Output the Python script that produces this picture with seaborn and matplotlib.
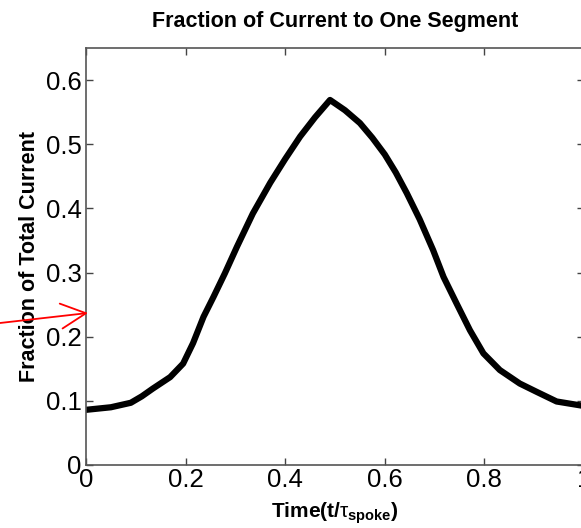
import matplotlib
matplotlib.use("Agg")
import matplotlib.pyplot as plt
import seaborn as sns
import pandas as pd

t_vals = [0.0, 0.05, 0.09, 0.112, 0.134, 0.169, 0.195, 0.215, 0.236, 0.256, 0.279, 0.303, 0.335,
          0.37, 0.40, 0.43, 0.46, 0.49, 0.52, 0.55, 0.575, 0.60, 0.622, 0.644, 0.67, 0.697, 0.718,
          0.744, 0.771, 0.798, 0.831, 0.871, 0.905, 0.945, 1.0]
frac_vals = [0.086, 0.090, 0.097, 0.107, 0.119, 0.137, 0.158, 0.190, 0.231, 0.262, 0.299, 0.340,
             0.392, 0.440, 0.477, 0.512, 0.542, 0.569, 0.553, 0.533, 0.510, 0.484, 0.456, 0.424,
             0.383, 0.335, 0.293, 0.252, 0.210, 0.174, 0.148, 0.127, 0.114, 0.099, 0.092]
x_ticks = [0, 0.2, 0.4, 0.6, 0.8, 1]
x_tick_labels = ["0", "0.2", "0.4", "0.6", "0.8", "1"]
y_ticks = [0, 0.1, 0.2, 0.3, 0.4, 0.5, 0.6]
y_tick_labels = ["0", "0.1", "0.2", "0.3", "0.4", "0.5", "0.6"]

sns.set_theme(style="white")
plt.rcParams["font.family"] = ["Liberation Sans", "DejaVu Sans"]
plt.rcParams["text.color"] = "black"
plt.rcParams["axes.labelcolor"] = "black"
plt.rcParams["mathtext.fontset"] = "custom"
plt.rcParams["mathtext.rm"] = "Liberation Sans"
plt.rcParams["mathtext.it"] = "Liberation Sans"
plt.rcParams["mathtext.bf"] = "Liberation Sans:bold"

df = pd.DataFrame({"t": t_vals, "frac": frac_vals})

W, H = 581, 528
fig = plt.figure(figsize=(W / 100, H / 100), dpi=100)
ax = fig.add_axes([86 / W, 1 - 465 / H, 498 / W, (465 - 48) / H])

sns.lineplot(data=df, x="t", y="frac", ax=ax, color="black", linewidth=4.5)

ax.set_xlim(0, 1)
ax.set_ylim(0, 0.65)
ax.set_xticks(x_ticks)
ax.set_xticklabels(x_tick_labels)
ax.set_yticks(y_ticks)
ax.set_yticklabels(y_tick_labels)
ax.tick_params(direction="in", length=5, width=1, color="#444444", labelsize=18.5,
               top=True, right=True, bottom=True, left=True, pad=3, labelcolor="black")
ax.tick_params(axis="x", pad=2)
for s in ax.spines.values():
    s.set_visible(True)
    s.set_color("#555555")
    s.set_linewidth(1.2)

ax.set_title("Fraction of Current to One Segment", fontsize=15.5, fontweight="bold", pad=15,
             color="black")
ax.set_xlabel(r"Time(t/$\tau_{\bf spoke}$)", fontsize=15, fontweight="bold", labelpad=6,
              color="black")
ax.set_ylabel("Fraction of Total Current", fontsize=15.5, fontweight="bold", labelpad=4,
              color="black")

ax.annotate("", xy=(88 / W, 1 - 313 / H), xycoords="figure fraction",
            xytext=(0, 1 - 323 / H), textcoords="figure fraction",
            arrowprops=dict(arrowstyle="->,head_length=1.0,head_width=0.5", color="red",
                            lw=1.3, mutation_scale=18, shrinkA=0, shrinkB=0),
            annotation_clip=False)

fig.savefig("out.png", dpi=100)
